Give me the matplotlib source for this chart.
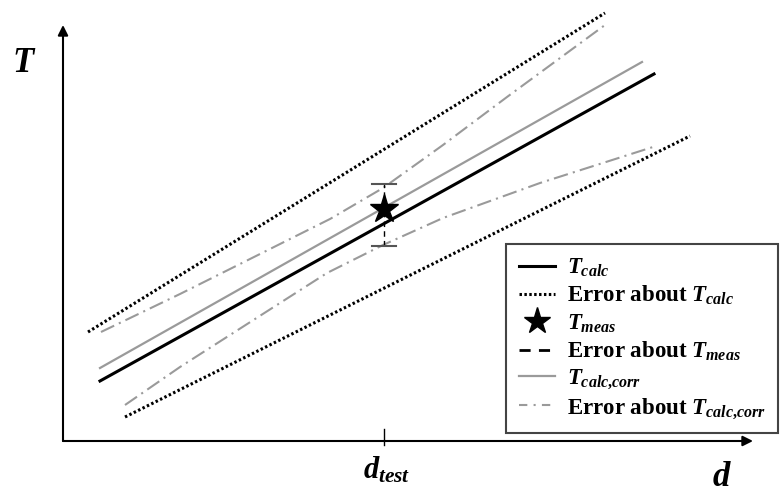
import numpy as np
import matplotlib
matplotlib.use("Agg")
import matplotlib.pyplot as plt
from matplotlib.lines import Line2D

plt.rcParams['font.family'] = ['Liberation Serif', 'DejaVu Serif']
plt.rcParams['mathtext.fontset'] = 'custom'
plt.rcParams['mathtext.rm'] = 'Liberation Serif:bold'
plt.rcParams['mathtext.it'] = 'Liberation Serif:bold:italic'
plt.rcParams['mathtext.bf'] = 'Liberation Serif:bold'

# (d, T in pixel-ish units, origin at axis corner)
d_calc = [37, 591]
t_calc = [60, 367]
d_corr = [37, 579]
t_corr = [73, 379]
d_err_up = [25, 542]
t_err_up = [109, 428]
d_err_lo = [62, 627]
t_err_lo = [24, 305]
d_corr_up = [38, 117, 197, 267, 320, 380, 444, 542]
t_corr_up = [109, 147, 187, 222, 253, 296, 344, 416]
d_corr_lo = [62, 117, 217, 264, 320, 380, 477, 590]
t_corr_lo = [36, 74, 138, 168, 196, 223, 258, 294]
d_test = 321
t_meas = 232
t_meas_lo = 195
t_meas_hi = 257

grey = '#9a9a9a'
dotted = (0, (0.8, 0.8))
dashdot = (0, (7, 2.5, 1, 2.5))

fig = plt.figure(figsize=(7.8, 4.93), dpi=100)
ax = fig.add_axes([0, 0, 1, 1])
ax.set_xlim(-63, 717)
ax.set_ylim(-52, 441)
ax.axis('off')

# axes with arrows
arr = dict(arrowstyle='-|>', lw=1.5, color='black', mutation_scale=15, shrinkA=0, shrinkB=0)
ax.annotate('', xy=(0, 416), xytext=(0, 0), arrowprops=arr)
ax.annotate('', xy=(690, 0), xytext=(0, 0), arrowprops=arr)
ax.plot([d_test, d_test], [-4, 12], color='black', lw=1)

ax.plot(d_err_up, t_err_up, color='black', lw=2.2, ls=dotted)
ax.plot(d_err_lo, t_err_lo, color='black', lw=2.2, ls=dotted)
ax.plot(d_corr_up, t_corr_up, color=grey, lw=1.5, ls=dashdot)
ax.plot(d_corr_lo, t_corr_lo, color=grey, lw=1.5, ls=dashdot)
ax.plot(d_corr, t_corr, color=grey, lw=1.6)
ax.plot(d_calc, t_calc, color='black', lw=2.2)

ax.plot([d_test, d_test], [t_meas_lo, t_meas_hi], color='black', lw=1, ls=(0, (4, 3)))
for t in (t_meas_lo, t_meas_hi):
    ax.plot([d_test - 12, d_test + 12], [t, t], color='#555555', lw=1.5)
ax.plot([d_test], [t_meas], marker='*', color='black', ms=21, ls='none')

ax.text(-40, 377, 'T', fontsize=25, fontweight='bold', fontstyle='italic',
        ha='center', va='center')
ax.text(658, -36, 'd', fontsize=25, fontweight='bold', fontstyle='italic',
        ha='center', va='center')
ax.text(324, -29, r'$d_{test}$', fontsize=22, ha='center', va='center')

handles = [
    Line2D([], [], color='black', lw=2.2),
    Line2D([], [], color='black', lw=2.2, ls=dotted),
    Line2D([], [], color='black', marker='*', ms=20, ls='none'),
    Line2D([], [], color='black', lw=2, ls=(0, (4, 3))),
    Line2D([], [], color=grey, lw=1.6),
    Line2D([], [], color=grey, lw=1.5, ls=(0, (4, 3, 1, 3))),
]
labels = [r'$T_{calc}$', r'Error about $T_{calc}$', r'$T_{meas}$',
          r'Error about $T_{meas}$', r'$T_{calc{,}corr}$', r'Error about $T_{calc{,}corr}$']
leg = fig.legend(handles, labels, loc='upper left', bbox_to_anchor=(506 / 780, 1 - 244 / 493),
                 bbox_transform=fig.transFigure, borderaxespad=0, fancybox=False,
                 edgecolor='#444444', framealpha=1, handlelength=1.6, handletextpad=0.5,
                 labelspacing=0.22, borderpad=0.55,
                 prop={'family': 'Liberation Serif', 'weight': 'bold', 'size': 16.5})
leg.get_frame().set_linewidth(1.5)

fig.savefig('out.png', dpi=100)
